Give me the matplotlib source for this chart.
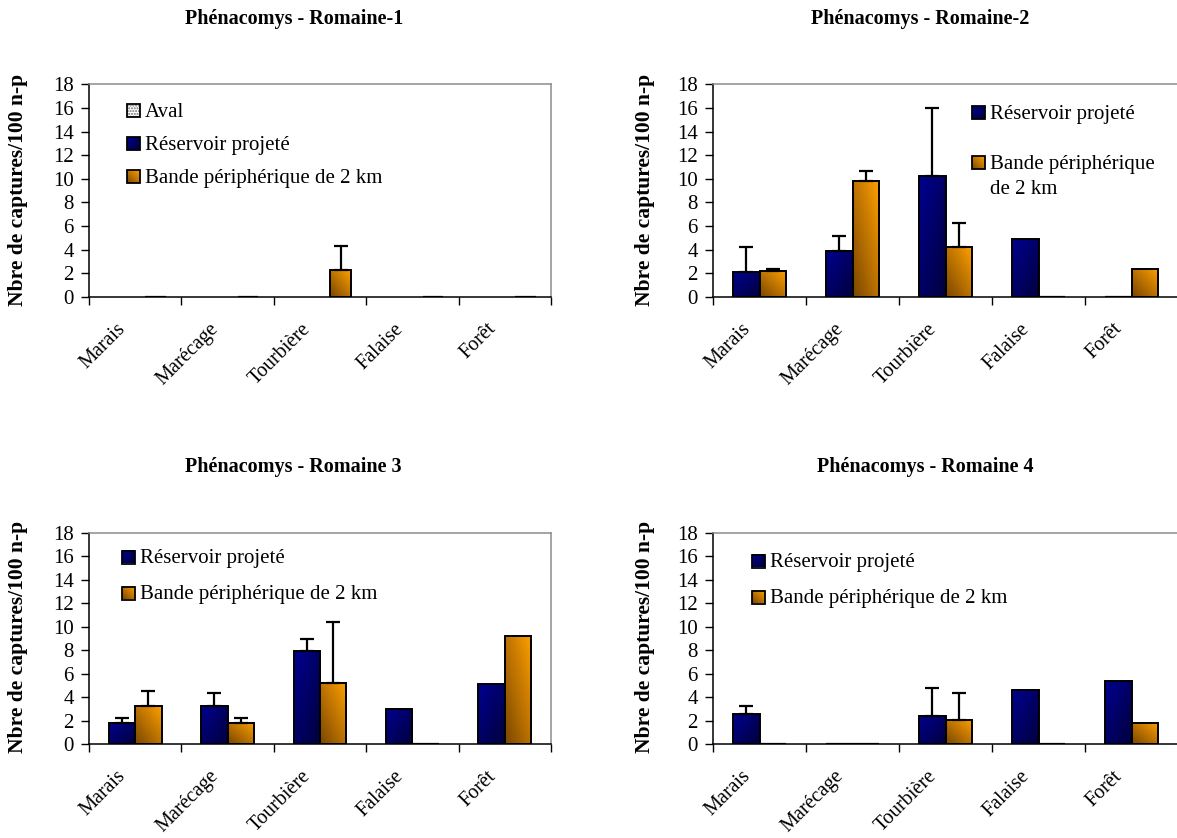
import numpy as np
import matplotlib.pyplot as plt
from matplotlib.patches import Rectangle
from matplotlib.colors import to_rgb
from matplotlib.transforms import ScaledTranslation

plt.rcParams['font.family'] = ['Liberation Serif', 'DejaVu Serif']

W, H = 1177, 838

categories = ['Marais', 'Marécage', 'Tourbière', 'Falaise', 'Forêt']
ylabel = 'Nbre de captures/100 n-p'

# Romaine-1 : only the 2 km band has captures
r1_aval = [np.nan, np.nan, np.nan, np.nan, np.nan]
r1_res = [np.nan, np.nan, np.nan, np.nan, np.nan]
r1_bande = [0, 0, 2.3, 0, 0]
r1_bande_err = [0, 0, 2.0, 0, 0]

# Romaine-2
r2_res = [2.1, 3.9, 10.2, 4.9, 0]
r2_res_err = [2.1, 1.3, 5.8, 0, 0]
r2_bande = [2.2, 9.8, 4.2, 0, 2.4]
r2_bande_err = [0.15, 0.9, 2.1, 0, 0]

# Romaine 3
r3_res = [1.85, 3.3, 7.9, 3.0, 5.1]
r3_res_err = [0.4, 1.05, 1.05, 0, 0]
r3_bande = [3.3, 1.8, 5.2, 0, 9.2]
r3_bande_err = [1.2, 0.4, 5.2, 0, 0]

# Romaine 4
r4_res = [2.55, 0, 2.4, 4.6, 5.35]
r4_res_err = [0.75, 0, 2.4, 0, 0]
r4_bande = [0, 0, 2.1, 0, 1.8]
r4_bande_err = [0, 0, 2.25, 0, 0]

NAVY = ('#000090', '#00003c', 'down')
ORANGE = ('#7a4600', '#ffa000', 'up')
AVAL = None

fig = plt.figure(figsize=(W / 100, H / 100), dpi=100)


def px(x, y):
    return x / W, 1 - y / H


def shade(ax, x0, y0, w, h, style, transform, lw=1.4):
    c0, c1, direction = style
    u = np.linspace(0, 1, 48)
    U, V = np.meshgrid(u, u)
    t = (U + V) / 2 if direction == 'up' else (U + 1 - V) / 2
    a, b = np.array(to_rgb(c0)), np.array(to_rgb(c1))
    img = a + (b - a) * t[..., None]
    ax.imshow(img, extent=(x0, x0 + w, y0, y0 + h), origin='lower',
              aspect='auto', interpolation='bilinear', transform=transform,
              zorder=2)
    ax.add_patch(Rectangle((x0, y0), w, h, transform=transform, fill=False,
                           ec='black', lw=lw, zorder=3))


def legend_item(ax, x, y, style, label, size=15, spacing=1.4):
    s = 13
    x0, y0 = px(x, y + s / 2)
    w, h = s / W, s / H
    if style is None:
        ax.add_patch(Rectangle((x0, y0), w, h, transform=fig.transFigure,
                               fc='white', ec='#707070', lw=0, hatch='......',
                               zorder=2))
        ax.add_patch(Rectangle((x0, y0), w, h, transform=fig.transFigure,
                               fill=False, ec='black', lw=1.3, zorder=3))
    else:
        shade(ax, x0, y0, w, h, style, fig.transFigure, lw=1.3)
    tx, ty = px(x + s + 5, y - 8)
    fig.text(tx, ty, label, va='top', ha='left', fontsize=size,
             linespacing=spacing)


def panel(rect, series, title, title_xy, ylabel_xy, legend):
    ax = fig.add_axes(rect)
    n = len(series)
    w = 1 / (n + 1.5)
    centers = np.arange(len(categories)) + 0.5
    for i, (vals, errs, style) in enumerate(series):
        xs = centers - n * w / 2 + (i + 0.5) * w
        for x, v in zip(xs, vals):
            if np.isnan(v):
                continue
            if v == 0:
                ax.plot([x - w / 2, x + w / 2], [0, 0], color='black',
                        lw=1.6, zorder=3, solid_capstyle='butt')
            else:
                shade(ax, x - w / 2, 0, w, v, style, ax.transData)
        if errs is not None:
            errs = np.array(errs)
            vals = np.array(vals)
            keep = errs > 0
            ax.errorbar(xs[keep], vals[keep], yerr=[np.zeros(keep.sum()), errs[keep]],
                        fmt='none', ecolor='black', elinewidth=1.6,
                        capsize=5, capthick=1.6, zorder=4)

    ax.set_xlim(0, len(categories))
    ax.set_ylim(0, 18)
    ax.set_yticks(range(0, 19, 2))
    ax.set_xticks(centers, categories, rotation=45, ha='right', va='center',
                  rotation_mode='anchor', fontsize=14.5)
    ax.set_xticks(np.arange(len(categories) + 1), minor=True)
    ax.tick_params(axis='x', which='major', length=0, pad=21)
    ax.tick_params(axis='x', which='minor', length=6, width=1, direction='out')
    ax.tick_params(axis='y', length=6, width=1, direction='out', pad=5,
                   labelsize=15)
    shift = ScaledTranslation(-12 / 100, 0, fig.dpi_scale_trans)
    for lab in ax.get_xticklabels():
        lab.set_transform(lab.get_transform() + shift)
    for side in ('top', 'right'):
        ax.spines[side].set_color('#8c8c8c')
    for sp in ax.spines.values():
        sp.set_linewidth(1.1)

    fig.text(*px(*title_xy), title, ha='center', va='center',
             fontweight='bold', fontsize=14.5)
    fig.text(*px(*ylabel_xy), ylabel, ha='center', va='center', rotation=90,
             fontweight='bold', fontsize=15.5)
    for x, y, style, label in legend:
        legend_item(ax, x, y, style, label)
    return ax


def axes_rect(left, right, top, bottom):
    return [left / W, 1 - bottom / H, (right - left) / W, (bottom - top) / H]


panel(axes_rect(89, 551, 84.3, 297),
      [(r1_aval, None, AVAL), (r1_res, None, NAVY), (r1_bande, r1_bande_err, ORANGE)],
      'Phénacomys - Romaine-1', (294, 19), (18, 190),
      [(127, 111, AVAL, 'Aval'),
       (127, 144, NAVY, 'Réservoir projeté'),
       (127, 177, ORANGE, 'Bande périphérique de 2 km')])

panel(axes_rect(713, 1178, 84.3, 297),
      [(r2_res, r2_res_err, NAVY), (r2_bande, r2_bande_err, ORANGE)],
      'Phénacomys - Romaine-2', (920, 19), (645, 190),
      [(972, 113, NAVY, 'Réservoir projeté'),
       (972, 163, ORANGE, 'Bande périphérique\nde 2 km')])

panel(axes_rect(89, 551, 532.7, 744.3),
      [(r3_res, r3_res_err, NAVY), (r3_bande, r3_bande_err, ORANGE)],
      'Phénacomys - Romaine 3', (293, 467), (18, 637),
      [(122, 557, NAVY, 'Réservoir projeté'),
       (122, 593, ORANGE, 'Bande périphérique de 2 km')])

panel(axes_rect(713, 1178, 532.7, 744.3),
      [(r4_res, r4_res_err, NAVY), (r4_bande, r4_bande_err, ORANGE)],
      'Phénacomys - Romaine 4', (925, 467), (645, 637),
      [(752, 561, NAVY, 'Réservoir projeté'),
       (752, 597, ORANGE, 'Bande périphérique de 2 km')])

fig.savefig('out.png', dpi=100)
